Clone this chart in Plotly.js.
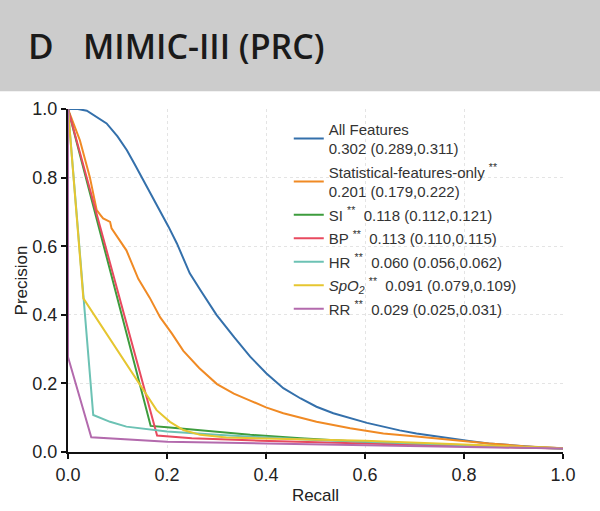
<!DOCTYPE html>
<html>
<head>
<meta charset="utf-8">
<script src="https://cdn.plot.ly/plotly-3.0.1.min.js"></script>
<style>
  html, body { margin: 0; padding: 0; background: #fff; }
  #prcPlot { width: 600px; height: 511px; }
</style>
</head>
<body>
<div id="prcPlot"></div>
<script>
// Legend labels, in the order of the reference
var seriesNames = [
  'All Features<br>0.302 (0.289,0.311)',
  'Statistical-features-only <sup>**</sup><br>0.201 (0.179,0.222)',
  'SI <sup>**</sup>  0.118 (0.112,0.121)',
  'BP <sup>**</sup>  0.113 (0.110,0.115)',
  'HR <sup>**</sup>  0.060 (0.056,0.062)',
  '<i>SpO<sub>2</sub></i> <sup>**</sup>  0.091 (0.079,0.109)',
  'RR <sup>**</sup>  0.029 (0.025,0.031)'
];
var seriesColors = ['#3470ab', '#f08a24', '#3d9c3d', '#e84a5f', '#6cc2b4', '#e6c630', '#b36aad'];

// Recall / precision
var allRecall = [0, 0.02, 0.038, 0.06, 0.078, 0.1, 0.119, 0.135, 0.152, 0.168, 0.186, 0.203, 0.22, 0.246, 0.268, 0.3, 0.336, 0.368, 0.401, 0.435, 0.47, 0.502, 0.536, 0.57, 0.604, 0.637, 0.67, 0.704, 0.74, 0.772, 0.81, 0.85, 0.9, 0.95, 1.0];
var allPrecision = [1.0, 1.0, 0.995, 0.975, 0.958, 0.92, 0.88, 0.838, 0.793, 0.75, 0.705, 0.657, 0.608, 0.521, 0.471, 0.40, 0.334, 0.278, 0.229, 0.186, 0.156, 0.132, 0.113, 0.098, 0.085, 0.074, 0.063, 0.054, 0.046, 0.04, 0.032, 0.025, 0.019, 0.014, 0.011];

var statRecall = [0, 0.012, 0.024, 0.044, 0.058, 0.066, 0.071, 0.078, 0.085, 0.088, 0.096, 0.105, 0.118, 0.142, 0.165, 0.186, 0.21, 0.233, 0.265, 0.301, 0.335, 0.368, 0.4, 0.435, 0.47, 0.502, 0.57, 0.637, 0.704, 0.772, 0.85, 0.92, 1.0];
var statPrecision = [1.0, 0.955, 0.909, 0.802, 0.705, 0.69, 0.681, 0.676, 0.671, 0.652, 0.635, 0.618, 0.588, 0.505, 0.45, 0.393, 0.345, 0.295, 0.245, 0.198, 0.17, 0.15, 0.13, 0.113, 0.1, 0.088, 0.069, 0.054, 0.045, 0.035, 0.025, 0.017, 0.011];

var siRecall = [0, 0.167, 0.2, 0.267, 0.368, 0.47, 0.59, 0.77, 1.0];
var siPrecision = [1.0, 0.076, 0.072, 0.063, 0.05, 0.04, 0.03, 0.02, 0.01];

var bpRecall = [0, 0.18, 0.25, 0.388, 0.6, 0.8, 1.0];
var bpPrecision = [1.0, 0.048, 0.04, 0.033, 0.025, 0.018, 0.01];

var hrRecall = [0, 0.031, 0.051, 0.085, 0.118, 0.2, 0.3, 0.5, 0.8, 1.0];
var hrPrecision = [1.0, 0.445, 0.108, 0.088, 0.074, 0.06, 0.05, 0.035, 0.02, 0.01];

var spo2Recall = [0, 0.031, 0.179, 0.206, 0.233, 0.267, 0.32, 0.4, 0.6, 0.8, 1.0];
var spo2Precision = [1.0, 0.448, 0.122, 0.088, 0.064, 0.05, 0.042, 0.04, 0.033, 0.022, 0.011];

var rrRecall = [0, 0, 0.047, 0.2, 0.4, 0.6, 0.8, 1.0];
var rrPrecision = [1.0, 0.277, 0.043, 0.03, 0.025, 0.02, 0.015, 0.01];

var recalls = [allRecall, statRecall, siRecall, bpRecall, hrRecall, spo2Recall, rrRecall];
var precisions = [allPrecision, statPrecision, siPrecision, bpPrecision, hrPrecision, spo2Precision, rrPrecision];

var data = [];
for (var i = 0; i < seriesNames.length; i++) {
  data.push({
    type: 'scatter',
    mode: 'lines',
    x: recalls[i],
    y: precisions[i],
    name: seriesNames[i],
    legendgroup: 'g' + i,
    line: { color: seriesColors[i], width: 2 }
  });
}

var sans = 'Liberation Sans, Arial, sans-serif';

var axisStyle = {
  range: [0, 1],
  dtick: 0.2,
  tickformat: '.1f',
  showline: true,
  linecolor: '#111',
  linewidth: 2,
  ticks: 'outside',
  ticklen: 5,
  tickwidth: 2,
  tickcolor: '#111',
  showgrid: true,
  gridcolor: '#e4e4e4',
  griddash: 'dot',
  gridwidth: 1,
  zeroline: false,
  tickfont: { family: sans, size: 18, color: '#222' }
};

var layout = {
  width: 600,
  height: 511,
  margin: { l: 68, r: 37, t: 109, b: 59 },
  paper_bgcolor: '#fff',
  plot_bgcolor: '#fff',
  showlegend: true,
  legend: {
    x: 0.446,
    y: 0.99,
    xanchor: 'left',
    yanchor: 'top',
    bgcolor: 'rgba(0,0,0,0)',
    tracegroupgap: 1,
    font: { family: sans, size: 15, color: '#333' }
  },
  xaxis: Object.assign({}, axisStyle, {
    title: { text: 'Recall', standoff: 6, font: { family: sans, size: 17, color: '#222' } }
  }),
  yaxis: Object.assign({}, axisStyle, {
    title: { text: 'Precision', standoff: 0, font: { family: sans, size: 17, color: '#222' } }
  }),
  shapes: [{
    type: 'rect', xref: 'paper', yref: 'paper', layer: 'below',
    x0: -0.2, x1: 1.2, y0: 1.052, y1: 1.35,
    fillcolor: '#cccccc', line: { width: 0 }
  }],
  annotations: [{
    xref: 'paper', yref: 'paper', x: -0.085, y: 1.184,
    xanchor: 'left', yanchor: 'middle', showarrow: false,
    text: 'D',
    font: { family: 'Open Sans, sans-serif', size: 35, color: '#1a1a1a', weight: 600 }
  }, {
    xref: 'paper', yref: 'paper', x: 0.026, y: 1.184,
    xanchor: 'left', yanchor: 'middle', showarrow: false,
    text: 'MIMIC-III (PRC)',
    font: { family: 'Open Sans, sans-serif', size: 34, color: '#1a1a1a', weight: 600 }
  }]
};

Plotly.newPlot('prcPlot', data, layout, { staticPlot: true });
</script>
</body>
</html>
